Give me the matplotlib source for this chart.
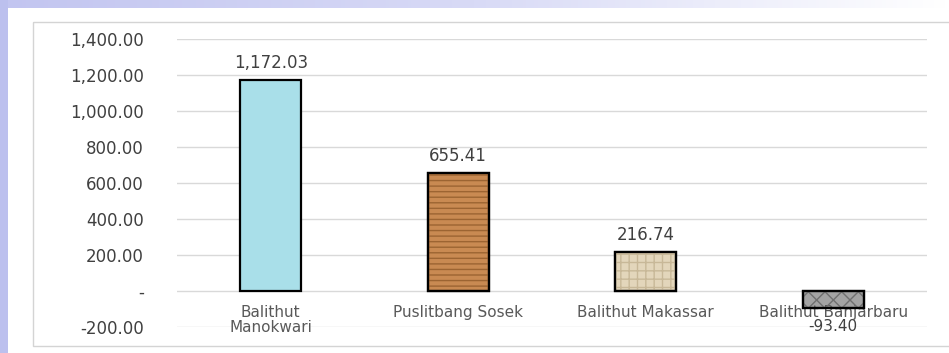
import numpy as np
import matplotlib
matplotlib.use("Agg")
import matplotlib.pyplot as plt
from matplotlib.patches import Rectangle

categories = ["Balithut\nManokwari", "Puslitbang Sosek", "Balithut Makassar", "Balithut Banjarbaru"]
values = [1172.03, 655.41, 216.74, -93.40]
value_labels = ["1,172.03", "655.41", "216.74", "-93.40"]
y_ticks = [-200, 0, 200, 400, 600, 800, 1000, 1200, 1400]
y_tick_labels = ["-200.00", "-", "200.00", "400.00", "600.00", "800.00",
                 "1,000.00", "1,200.00", "1,400.00"]

bar_colors = ["#a9dfe9", "#c98a52", "#e3d6bb", "#a3a3a3"]
hatches = ["", "---", "++", "xx"]
hatch_colors = ["#8cc7d6", "#9c6432", "#c8b898", "#6f6f6f"]

fig = plt.figure(figsize=(9.49, 3.53), dpi=100)

# slide background: lavender strips on top and left
bg = fig.add_axes([0, 0, 1, 1], zorder=-10)
bg.set_xlim(0, 949)
bg.set_ylim(353, 0)
bg.axis("off")
grad = np.linspace(0, 1, 256)[None, :]
bg.imshow(grad, extent=[0, 949, 8, 0], aspect="auto",
          cmap=matplotlib.colors.LinearSegmentedColormap.from_list(
              "bgr", ["#c2c5f0", "#d8daf6", "#ffffff"]))
bg.add_patch(Rectangle((0, 0), 8, 353, color="#bcc0ee", lw=0))
bg.add_patch(Rectangle((33, 22), 940, 324, fill=False, edgecolor="#d4d4d4", lw=1))

ax = fig.add_axes([177 / 949, 1 - 327 / 353, 750 / 949, 288 / 353])
x = np.arange(len(values))
for i, v in enumerate(values):
    ax.bar(x[i], v, width=0.325, color=bar_colors[i], edgecolor="black",
           linewidth=1.6, zorder=3)
    if hatches[i]:
        ax.bar(x[i], v, width=0.325, color="none", edgecolor=hatch_colors[i],
               hatch=hatches[i], linewidth=0, zorder=3.5)
        ax.bar(x[i], v, width=0.325, color="none", edgecolor="black",
               linewidth=1.6, zorder=4)

ax.set_xlim(-0.5, 3.5)
ax.set_ylim(-200, 1400)
ax.set_yticks(y_ticks)
ax.set_yticklabels(y_tick_labels)
ax.set_xticks([])
ax.tick_params(axis="y", length=0, pad=24, labelsize=12, labelcolor="#404040")
ax.grid(axis="y", color="#d9d9d9", linewidth=1, zorder=0)
for s in ax.spines.values():
    s.set_visible(False)

for i, v in enumerate(values):
    if v >= 0:
        ax.annotate(value_labels[i], (x[i], v), xytext=(0, 6), textcoords="offset points",
                    ha="center", va="bottom", fontsize=12, color="#404040")
    else:
        ax.annotate(value_labels[i], (x[i], v), xytext=(0, -8), textcoords="offset points",
                    ha="center", va="top", fontsize=11, color="#404040")
    ax.annotate(categories[i], (x[i], 0), xytext=(0, -10), textcoords="offset points",
                ha="center", va="top", fontsize=11, color="#595959", linespacing=1.0)

fig.savefig("out.png", dpi=100)
